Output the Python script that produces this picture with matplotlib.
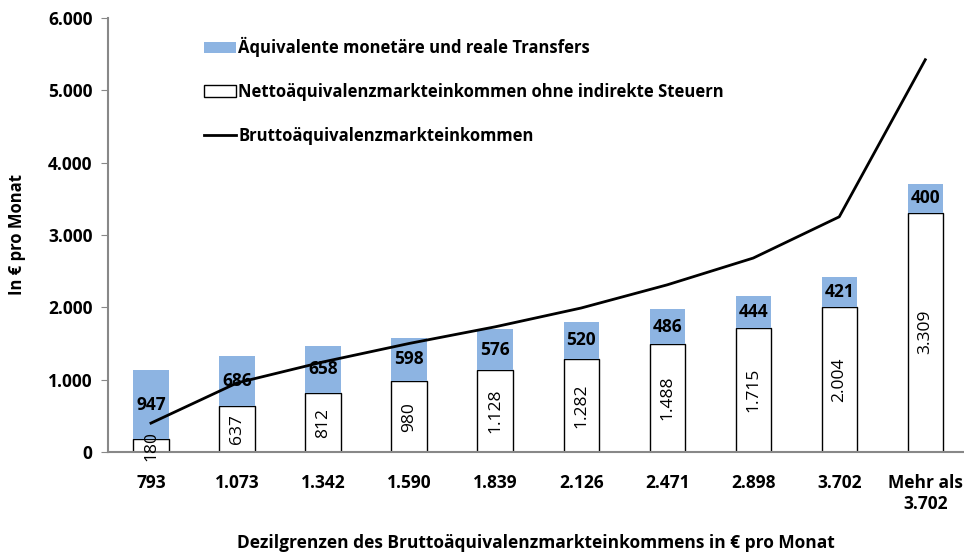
import matplotlib.pyplot as plt
import numpy as np

# Dezilgrenzen und Werte
kategorien = ['793', '1.073', '1.342', '1.590', '1.839', '2.126', '2.471', '2.898', '3.702', 'Mehr als\n3.702']
netto = [180, 637, 812, 980, 1128, 1282, 1488, 1715, 2004, 3309]
transfers = [947, 686, 658, 598, 576, 520, 486, 444, 421, 400]
brutto = [400, 955, 1245, 1500, 1730, 1990, 2310, 2680, 3250, 5420]

blau = '#8DB4E2'
plt.rcParams['font.family'] = ['Open Sans', 'DejaVu Sans']

fig = plt.figure(figsize=(9.64, 5.54), dpi=100)
ax = fig.add_axes([0.112, 0.184, 0.888, 0.784])

x = np.arange(len(kategorien))
b_net = ax.bar(x, netto, width=0.41, color='white', edgecolor='black', linewidth=1,
               label='Nettoäquivalenzmarkteinkommen ohne indirekte Steuern')
b_tr = ax.bar(x, transfers, width=0.41, bottom=netto, color=blau, linewidth=0,
              label='Äquivalente monetäre und reale Transfers')
l_br, = ax.plot(x, brutto, color='black', linewidth=2, label='Bruttoäquivalenzmarkteinkommen')

def fmt(v):
    return f'{v:,}'.replace(',', '.')

for i in range(len(x)):
    ax.text(x[i], netto[i] / 2, fmt(netto[i]), rotation=90, ha='center', va='center', fontsize=12.5)
    ax.text(x[i], netto[i] + transfers[i] / 2, fmt(transfers[i]), ha='center', va='center',
            fontsize=12.5, fontweight='bold')

ax.set_ylim(0, 6000)
ax.set_xlim(-0.5, 9.45)
ax.set_yticks(range(0, 6001, 1000))
ax.set_yticklabels([fmt(v) for v in range(0, 6001, 1000)], fontsize=12.5, fontweight='bold')
ax.set_xticks(x)
ax.set_xticklabels(kategorien, fontsize=12.5, fontweight='bold')
ax.tick_params(axis='x', length=0, pad=16)
ax.tick_params(axis='y', length=5, color='#888888', pad=6)

for s in ['top', 'right']:
    ax.spines[s].set_visible(False)
ax.spines['left'].set_color('#888888')
ax.spines['bottom'].set_color('#888888')
ax.spines['left'].set_linewidth(1.5)
ax.spines['bottom'].set_linewidth(1.5)

ax.set_ylabel('In € pro Monat', fontsize=12, fontweight='bold', labelpad=16)
ax.set_xlabel('Dezilgrenzen des Bruttoäquivalenzmarkteinkommens in € pro Monat',
              fontsize=12.5, fontweight='bold', labelpad=15)

leg = ax.legend(handles=[b_tr, b_net, l_br], loc='upper left', bbox_to_anchor=(0.095, 0.99),
                frameon=False, labelspacing=1.55, handlelength=1.9,
                handletextpad=0.15, prop={'weight': 'bold', 'size': 12})

fig.savefig('out.png', dpi=100)
